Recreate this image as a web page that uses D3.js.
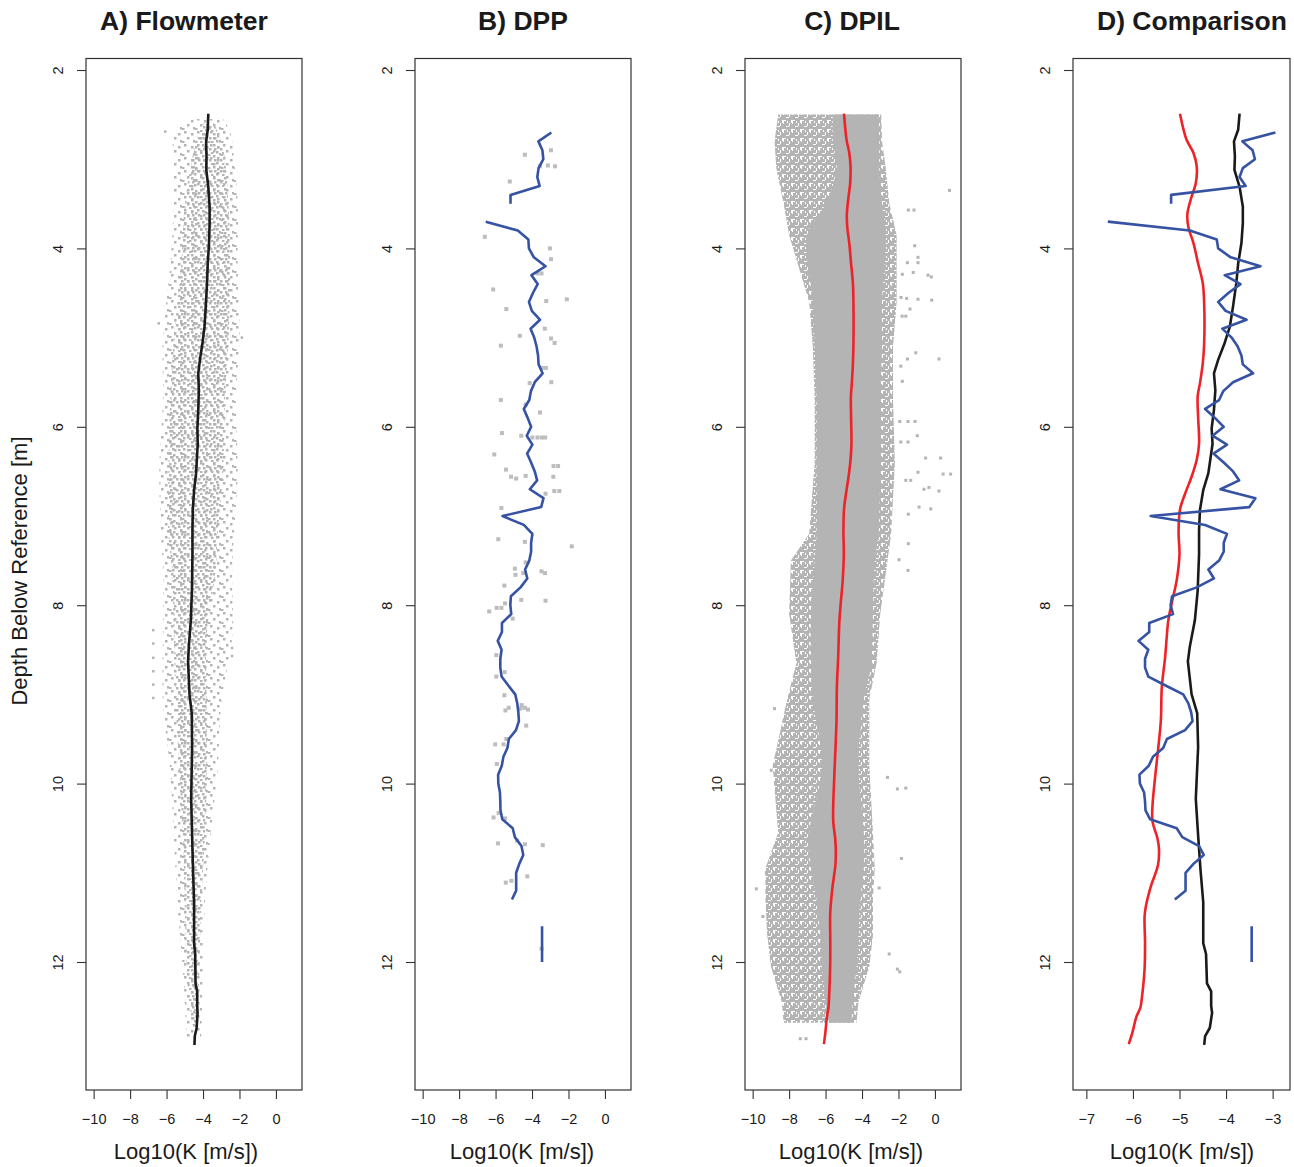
<!DOCTYPE html>
<html>
<head>
<meta charset="UTF-8">
<title>Hydraulic conductivity profiles</title>
<script src="https://d3js.org/d3.v7.min.js"></script>
<style>
  body { margin: 0; background: #fff; }
  text { font-family: "Liberation Sans", Arial, Helvetica, sans-serif; fill: #1a1a1a; }
</style>
</head>
<body>
<div id="chart"></div>
<script>
// ---- data (depth [m], log10 K) ----
var depthTicks = [2, 4, 6, 8, 10, 12];
var kTicksWide = [-10, -8, -6, -4, -2, 0];
var kTicksComp = [-7, -6, -5, -4, -3];

// flowmeter mean profile (black)
var flowLine = [
  [2.49,-3.71],[2.67,-3.74],[2.80,-3.83],[2.97,-3.81],[3.12,-3.82],[3.31,-3.71],[3.53,-3.64],
  [3.72,-3.64],[3.94,-3.67],[4.17,-3.74],[4.39,-3.78],[4.65,-3.85],[4.88,-3.92],[5.06,-4.03],
  [5.25,-4.17],[5.40,-4.26],[5.59,-4.23],[5.81,-4.26],[6.02,-4.31],[6.19,-4.29],[6.52,-4.38],
  [6.71,-4.49],[6.93,-4.56],[7.16,-4.58],[7.43,-4.58],[7.84,-4.61],[8.17,-4.67],[8.47,-4.78],
  [8.63,-4.82],[9.00,-4.74],[9.21,-4.62],[9.59,-4.60],[10.17,-4.65],[10.58,-4.60],[10.96,-4.55],
  [11.33,-4.49],[11.79,-4.49],[11.91,-4.43],[12.24,-4.41],[12.33,-4.32],[12.49,-4.32],
  [12.57,-4.30],[12.74,-4.35],[12.83,-4.45],[12.93,-4.47]
];

// DPIL mean profile (red)
var dpilLine = [
  [2.49,-4.99],[2.78,-4.85],[2.93,-4.70],[3.08,-4.63],[3.27,-4.65],[3.42,-4.74],[3.61,-4.83],
  [3.76,-4.81],[3.94,-4.70],[4.17,-4.60],[4.39,-4.50],[4.62,-4.47],[5.06,-4.47],[5.29,-4.50],
  [5.51,-4.56],[5.66,-4.61],[5.89,-4.60],[6.19,-4.58],[6.37,-4.63],[6.56,-4.74],[6.75,-4.88],
  [6.93,-4.99],[7.19,-5.02],[7.43,-5.00],[7.72,-5.06],[7.96,-5.16],[8.17,-5.24],[8.59,-5.31],
  [8.92,-5.38],[9.29,-5.40],[9.62,-5.46],[9.91,-5.52],[10.25,-5.58],[10.42,-5.58],[10.62,-5.47],
  [10.74,-5.44],[10.91,-5.46],[11.16,-5.62],[11.37,-5.72],[11.49,-5.75],[11.79,-5.74],
  [12.08,-5.75],[12.41,-5.81],[12.51,-5.84],[12.62,-5.93],[12.79,-6.01],[12.92,-6.09]
];

// DPP profile (blue), null = gap
var dppLine = [
  [2.7,-2.94],[2.8,-3.65],[2.9,-3.43],[3.0,-3.38],[3.1,-3.64],[3.2,-3.71],[3.3,-3.58],[3.4,-5.18],[3.5,-5.18],[3.6,null],
  [3.7,-6.54],[3.8,-4.78],[3.9,-4.20],[4.0,-4.17],[4.1,-3.90],[4.2,-3.26],[4.3,-4.03],[4.4,-3.69],[4.5,-3.95],
  [4.6,-4.17],[4.7,-4.01],[4.8,-3.56],[4.9,-4.08],[5.0,-3.88],[5.1,-3.75],[5.2,-3.67],[5.3,-3.64],[5.4,-3.42],
  [5.5,-3.85],[5.6,-4.06],[5.7,-4.15],[5.8,-4.45],[5.9,-4.24],[6.0,-4.05],[6.1,-4.29],[6.2,-3.98],[6.3,-4.27],
  [6.4,-4.05],[6.5,-3.85],[6.6,-3.72],[6.7,-4.12],[6.8,-3.37],[6.9,-3.50],[7.0,-5.62],[7.1,-4.45],[7.2,-3.98],
  [7.3,-4.05],[7.4,-4.05],[7.5,-4.15],[7.6,-4.38],[7.7,-4.26],[7.8,-4.63],[7.9,-5.16],[8.0,-5.19],[8.1,-5.14],
  [8.2,-5.65],[8.3,-5.65],[8.4,-5.88],[8.5,-5.67],[8.6,-5.74],[8.7,-5.74],[8.8,-5.67],[8.9,-5.30],[9.0,-4.92],
  [9.1,-4.81],[9.2,-4.75],[9.3,-4.72],[9.4,-4.88],[9.5,-5.27],[9.6,-5.35],[9.7,-5.57],[9.8,-5.66],[9.9,-5.86],
  [10.0,-5.85],[10.1,-5.76],[10.2,-5.74],[10.3,-5.73],[10.4,-5.63],[10.5,-5.06],[10.6,-4.94],[10.7,-4.58],
  [10.8,-4.48],[10.9,-4.70],[11.0,-4.87],[11.1,-4.87],[11.2,-4.87],[11.3,-5.10],[11.4,null],
  [11.6,-3.45],[11.7,-3.45],[11.8,-3.45],[11.9,-3.45],[12.0,-3.45]
];

// DPP raw measurements (gray squares)
var dppPoints = [
  [2.90,-2.96],[2.95,-4.39],[3.08,-3.57],[3.07,-3.13],[3.08,-2.74],[3.25,-5.22],[3.87,-6.59],[4.00,-3.02],
  [4.12,-2.96],[4.28,-3.70],[4.28,-3.48],[4.46,-6.13],[4.59,-3.22],[4.57,-2.09],[4.68,-5.41],[4.90,-3.30],
  [4.98,-4.67],[5.01,-2.96],[5.06,-2.76],[5.09,-5.71],[5.34,-3.46],[5.34,-3.24],[5.51,-4.13],[5.50,-2.94],
  [5.70,-5.71],[5.75,-4.35],[5.84,-3.56],[6.07,-5.65],[6.10,-4.59],[6.12,-3.98],[6.12,-3.70],[6.12,-3.46],
  [6.12,-3.28],[6.31,-6.07],[6.48,-5.43],[6.56,-5.15],[6.58,-4.87],[6.55,-4.35],[6.44,-2.82],[6.44,-2.57],
  [6.56,-2.83],[6.75,-3.26],[6.72,-2.78],[6.72,-2.50],[6.91,-5.68],[7.26,-5.85],[7.29,-4.39],[7.34,-1.82],
  [7.52,-4.35],[7.59,-4.94],[7.66,-4.91],[7.64,-4.48],[7.62,-3.48],[7.64,-3.29],[7.78,-5.52],[7.94,-4.59],
  [7.95,-3.26],[7.98,-5.48],[8.03,-5.94],[8.03,-5.68],[8.07,-6.35],[8.15,-5.06],[8.56,-5.96],[8.80,-5.96],
  [8.75,-5.50],[9.01,-5.52],[9.15,-5.28],[9.18,-5.46],[9.12,-4.57],[9.16,-4.63],[9.15,-4.39],[9.17,-4.22],
  [9.35,-4.32],[9.50,-5.41],[9.56,-6.02],[9.56,-5.56],[9.78,-5.93],[10.33,-5.83],[10.38,-6.11],[10.39,-5.48],
  [10.67,-5.87],[10.64,-4.82],[10.68,-4.39],[10.69,-3.41],[11.04,-4.26],[11.11,-5.44],[11.09,-5.13],[11.85,-3.48]
];

// flowmeter scatter cloud: [depth, low K, high K]
var flowCloudOuter = [
  [2.55,-4.7,-2.9],[2.7,-5.6,-2.5],[3.0,-5.6,-2.3],[3.5,-5.6,-2.1],[4.2,-5.8,-2.1],[5.0,-6.2,-2.0],
  [5.7,-6.2,-2.2],[6.5,-6.4,-2.1],[7.2,-6.3,-2.3],[7.6,-6.2,-2.4],[8.35,-6.2,-2.4],[9.1,-6.2,-3.0],
  [9.85,-5.8,-3.2],[10.6,-5.6,-3.6],[11.35,-5.4,-3.9],[12.1,-5.1,-4.0],[12.85,-4.9,-4.1]
];
var flowCloudInner = [
  [2.6,-4.0,-3.4],[2.8,-4.4,-3.0],[3.0,-4.6,-2.8],[3.5,-5.0,-2.6],[4.2,-5.2,-2.5],[5.0,-5.6,-2.6],
  [5.7,-5.8,-2.8],[6.5,-5.9,-2.9],[7.2,-5.9,-3.2],[7.6,-5.7,-3.3],[8.35,-5.6,-3.8],[9.1,-5.5,-3.8],
  [9.85,-5.3,-3.8],[10.6,-5.1,-3.9],[11.35,-5.0,-4.1],[12.1,-4.9,-4.2],[12.7,-4.6,-4.3]
];
var flowOutliers = [
  [2.69,-6.07],[4.84,-6.43],[5.0,-1.87],[8.28,-6.73],[8.43,-6.73],[8.59,-6.73],[8.74,-6.73],
  [8.89,-6.73],[9.04,-6.73],[8.48,-2.41],[8.57,-2.41]
];

// DPIL scatter cloud: [depth, low K, high K]
var dpilCloudOuter = [
  [2.5,-8.6,-2.95],[2.8,-8.8,-2.9],[3.1,-8.7,-2.7],[3.5,-8.3,-2.5],[3.85,-8.0,-2.1],[4.6,-6.9,-2.1],
  [5.1,-6.7,-2.3],[5.7,-6.6,-2.3],[6.4,-6.6,-2.2],[7.2,-6.9,-2.4],[7.5,-7.9,-2.6],[8.1,-8.0,-3.0],
  [8.65,-7.6,-3.2],[9.05,-8.1,-3.6],[9.8,-8.9,-3.6],[10.55,-8.6,-3.4],[10.95,-9.3,-3.3],[11.3,-9.3,-3.4],
  [11.7,-9.2,-3.4],[12.05,-9.0,-3.6],[12.45,-8.4,-4.2],[12.68,-8.3,-4.3]
];
var dpilCloudCore = [
  [2.5,-5.6,-3.1],[2.8,-5.6,-3.05],[3.1,-5.4,-3.05],[3.5,-6.0,-2.9],[3.85,-7.0,-2.7],[4.6,-6.7,-2.9],
  [5.1,-6.6,-2.9],[5.7,-6.5,-3.0],[6.4,-6.5,-3.0],[7.2,-6.5,-3.1],[7.5,-6.6,-3.3],[8.1,-6.8,-3.4],
  [8.65,-6.8,-3.5],[9.05,-6.7,-3.9],[9.8,-6.2,-4.2],[10.55,-6.9,-3.9],[10.95,-6.8,-3.9],[11.3,-6.5,-4.1],
  [11.7,-6.3,-4.2],[12.05,-6.2,-4.3],[12.45,-6.0,-4.5],[12.68,-5.8,-4.6]
];
var dpilOutliers = [
  [3.35,0.80],[3.57,-1.46],[3.57,-1.15],[3.97,-1.11],[4.10,-0.93],[4.16,-1.51],[4.16,-0.93],[4.27,-1.19],
  [4.30,-0.38],[4.32,-0.20],[4.29,-1.79],[4.55,-1.86],[4.56,-1.55],[4.57,-0.93],[4.58,-0.18],[4.68,-1.37],
  [4.76,-1.80],[4.76,-1.60],[5.17,-1.05],[5.24,0.22],[5.24,-1.51],[5.32,-1.87],[5.49,-1.79],[5.94,-1.93],
  [5.94,-1.48],[5.94,-1.09],[6.10,-0.97],[6.17,-1.87],[6.17,-1.48],[6.35,-0.51],[6.35,0.31],[6.53,0.45],
  [6.53,0.86],[6.51,-0.93],[6.60,-1.60],[6.60,-1.33],[6.70,-0.60],[6.68,-0.33],[6.72,0.22],[6.90,-0.87],
  [6.92,-0.23],[6.98,-1.46],[7.31,-1.46],[7.49,-1.97],[7.61,-1.48],[9.93,-2.60],[10.06,-2.06],[10.05,-1.60],
  [10.84,-1.84],[11.17,-3.06],[11.91,-2.51],[12.08,-2.06],[12.11,-1.93],[12.86,-7.39],[12.86,-7.07],
  [11.18,-9.8],[11.49,-9.44],[11.0,-9.25],[9.16,-8.8],[9.85,-8.98]
];

// ---- layout ----
var W = 1294, H = 1167;
var plotTop = 58.5, plotBottom = 1090;
var cGray = "#b4b4b4", cBlue = "#3552a3", cRed = "#ee2229", cBlack = "#1a1a1a";

var panels = [
  {key: "A", x0: 86,   w: 216, domain: [-10.42, 1.43], ticks: kTicksWide, title: "A) Flowmeter", titleX: 184, labX: 186},
  {key: "B", x0: 415,  w: 216, domain: [-10.42, 1.43], ticks: kTicksWide, title: "B) DPP",       titleX: 523, labX: 522},
  {key: "C", x0: 745,  w: 216, domain: [-10.42, 1.43], ticks: kTicksWide, title: "C) DPIL",      titleX: 852, labX: 851},
  {key: "D", x0: 1073, w: 217, domain: [-7.287, -2.627], ticks: kTicksComp, title: "D) Comparison", titleX: 1192, labX: 1182}
];

var svg = d3.select("#chart").append("svg")
  .attr("width", W).attr("height", H);
svg.append("rect").attr("width", W).attr("height", H).attr("fill", "#fff");

// dotted textures for the dense scatter clouds
var defs = svg.append("defs");
function dotPattern(id, size, dots, s, color) {
  var p = defs.append("pattern").attr("id", id)
    .attr("width", size[0]).attr("height", size[1])
    .attr("patternUnits", "userSpaceOnUse");
  dots.forEach(function(d) {
    p.append("rect").attr("x", d[0]).attr("y", d[1])
      .attr("width", s).attr("height", s).attr("fill", color);
  });
}
dotPattern("dotsSparse", [13, 13], [[2,1],[9,3],[5,7],[11,10],[0,11]], 2.5, cGray);
dotPattern("dotsDense", [11, 11], [[0,5],[4,1],[7,8],[8,3],[2,9],[5,5]], 2.5, cGray);
dotPattern("dotsC", [9, 9], [[0,0],[3,1],[6,0],[1,4],[5,3],[7,6],[3,6],[0,7]], 3, cGray);

var y = d3.scaleLinear().domain([1.871, 13.435]).range([plotTop, plotBottom]);

function fmt(d) { return d < 0 ? "\u2212" + Math.abs(d) : String(d); }

panels.forEach(function(p) {
  var x = d3.scaleLinear().domain(p.domain).range([p.x0, p.x0 + p.w]);
  var g = svg.append("g");

  var band = d3.area()
    .y(function(d) { return y(d[0]); })
    .x0(function(d) { return x(d[1]); })
    .x1(function(d) { return x(d[2]); });

  var line = d3.line()
    .defined(function(d) { return d[1] !== null; })
    .y(function(d) { return y(d[0]); })
    .x(function(d) { return x(d[1]); });

  function squares(data, s, color) {
    g.selectAll(null).data(data).enter().append("rect")
      .attr("x", function(d) { return x(d[1]) - s / 2; })
      .attr("y", function(d) { return y(d[0]) - s / 2; })
      .attr("width", s).attr("height", s).attr("fill", color);
  }
  function path(data, color, curve) {
    g.append("path").datum(data)
      .attr("d", line.curve(curve || d3.curveLinear))
      .attr("fill", "none").attr("stroke", color)
      .attr("stroke-width", 2.6).attr("stroke-linejoin", "round");
  }

  if (p.key === "A") {
    g.append("path").datum(flowCloudOuter).attr("d", band.curve(d3.curveCatmullRom)).attr("fill", "url(#dotsSparse)");
    g.append("path").datum(flowCloudInner).attr("d", band).attr("fill", "url(#dotsDense)");
    squares(flowOutliers, 2.5, cGray);
    path(flowLine, cBlack);
  } else if (p.key === "B") {
    squares(dppPoints, 4, "#bdbdbd");
    path(dppLine, cBlue);
  } else if (p.key === "C") {
    g.append("path").datum(dpilCloudOuter).attr("d", band).attr("fill", "url(#dotsC)");
    g.append("path").datum(dpilCloudCore).attr("d", band.curve(d3.curveCatmullRom)).attr("fill", cGray);
    squares(dpilOutliers, 3, cGray);
    path(dpilLine, cRed, d3.curveCatmullRom);
  } else {
    path(dpilLine, cRed, d3.curveCatmullRom);
    path(flowLine, cBlack);
    path(dppLine, cBlue);
  }

  // frame
  svg.append("rect")
    .attr("x", p.x0).attr("y", plotTop)
    .attr("width", p.w).attr("height", plotBottom - plotTop)
    .attr("fill", "none").attr("stroke", "#333").attr("stroke-width", 1.2);

  // bottom axis
  var xa = svg.append("g").attr("transform", "translate(0," + plotBottom + ")")
    .call(d3.axisBottom(x).tickValues(p.ticks).tickSize(9).tickPadding(14.5).tickFormat(fmt));
  xa.select(".domain").remove();
  xa.selectAll("line").attr("stroke", "#333").attr("stroke-width", 1.1);
  xa.selectAll("text").attr("font-size", 14.5).attr("fill", "#1a1a1a")
    .style("font-family", '"Liberation Sans", Arial, sans-serif');

  // left axis, labels turned like the original
  var ya = svg.append("g").attr("transform", "translate(" + p.x0 + ",0)")
    .call(d3.axisLeft(y).tickValues(depthTicks).tickSize(9));
  ya.select(".domain").remove();
  ya.selectAll("line").attr("stroke", "#333").attr("stroke-width", 1.1);
  ya.selectAll("text")
    .attr("x", null).attr("dy", null)
    .attr("text-anchor", "middle")
    .attr("transform", "translate(-23,0) rotate(-90)")
    .attr("font-size", 14.5).attr("fill", "#1a1a1a")
    .style("font-family", '"Liberation Sans", Arial, sans-serif');

  // titles
  svg.append("text").attr("x", p.titleX).attr("y", 30)
    .attr("text-anchor", "middle").attr("font-size", 26.5).attr("font-weight", "bold")
    .text(p.title);
  svg.append("text").attr("x", p.labX).attr("y", 1159)
    .attr("text-anchor", "middle").attr("font-size", 22)
    .text("Log10(K [m/s])");
});

svg.append("text")
  .attr("transform", "translate(27,571) rotate(-90)")
  .attr("text-anchor", "middle").attr("font-size", 22)
  .text("Depth Below Reference [m]");
</script>
</body>
</html>
